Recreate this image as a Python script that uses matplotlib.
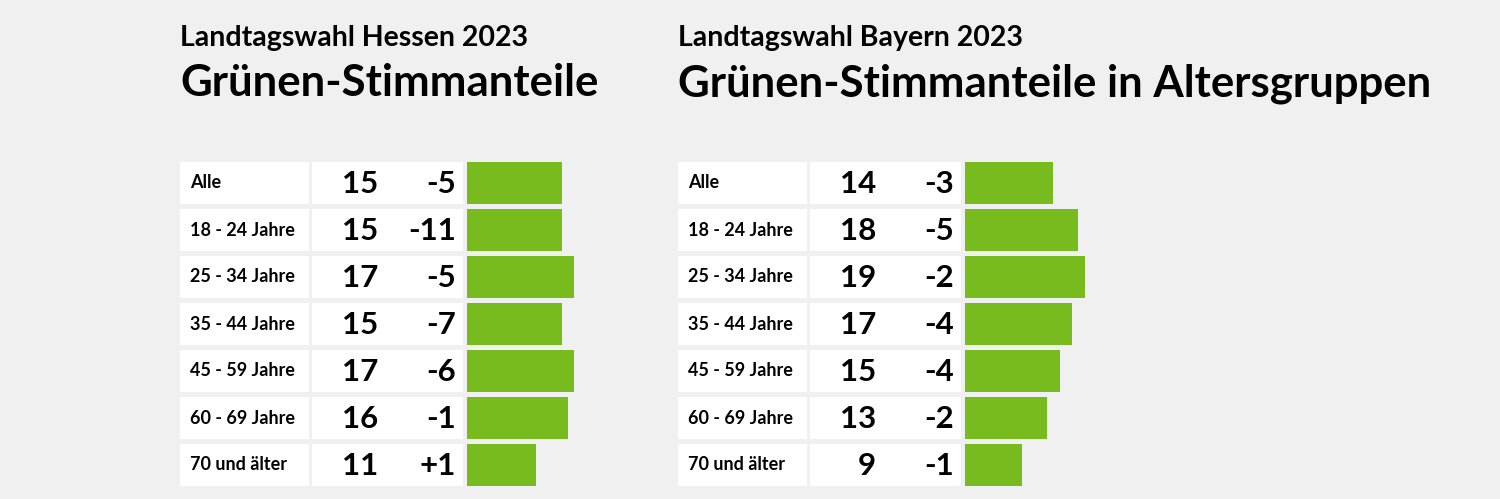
import matplotlib
matplotlib.use('Agg')
import matplotlib.pyplot as plt

# data
groups = ['Alle', '18 - 24 Jahre', '25 - 34 Jahre', '35 - 44 Jahre',
          '45 - 59 Jahre', '60 - 69 Jahre', '70 und älter']
hessen_share = [15, 15, 17, 15, 17, 16, 11]
hessen_change = ['-5', '-11', '-5', '-7', '-6', '-1', '+1']
bayern_share = [14, 18, 19, 17, 15, 13, 9]
bayern_change = ['-3', '-5', '-2', '-4', '-4', '-2', '-1']

panels = [
    ('Landtagswahl Hessen 2023', 'Grünen-Stimmanteile', hessen_share, hessen_change, 180),
    ('Landtagswahl Bayern 2023', 'Grünen-Stimmanteile in Altersgruppen', bayern_share, bayern_change, 678),
]

BG = '#f0f0f0'
GREEN = '#77bb1f'
FONT = 'Lato'
W, H = 1500, 499

fig = plt.figure(figsize=(15, 4.99), dpi=100, facecolor=BG)
bg = fig.add_axes([0, 0, 1, 1])
bg.set_xlim(0, W)
bg.set_ylim(H, 0)
bg.axis('off')

row_top = 162
pitch = 47
row_h = 42
px_per_pt = 6.3

for sup, title, share, change, x0 in panels:
    bg.text(x0, 46, sup, fontsize=20.5, fontweight='bold', family=FONT, va='baseline', ha='left')
    bg.text(x0, 96, title, fontsize=31.5, fontweight='bold', family=FONT, va='baseline', ha='left')
    for i, (g, s, c) in enumerate(zip(groups, share, change)):
        top = row_top + i * pitch
        bg.add_patch(plt.Rectangle((x0, top), 129, row_h, color='white', lw=0))
        bg.add_patch(plt.Rectangle((x0 + 132, top), 151, row_h, color='white', lw=0))
        yc = top + row_h / 2
        bg.text(x0 + 10, yc, g, fontsize=13, fontweight='bold', family=FONT, va='center', ha='left')
        bg.text(x0 + 198, yc + 1, str(s), fontsize=22.5, fontweight='bold', family=FONT, va='center', ha='right')
        bg.text(x0 + 276, yc + 1, c, fontsize=22.5, fontweight='bold', family=FONT, va='center', ha='right')

    # bars in their own axes, value scale in percentage points
    bx = x0 + 287
    ax_w = 20 * px_per_pt
    ax_top = row_top - (pitch - row_h) / 2
    ax_h = 7 * pitch
    ax = fig.add_axes([bx / W, 1 - (ax_top + ax_h) / H, ax_w / W, ax_h / H])
    ax.set_xlim(0, 20)
    ax.set_ylim(6.5, -0.5)
    ax.barh(range(len(share)), share, height=row_h / pitch, color=GREEN, lw=0)
    ax.axis('off')

fig.savefig('out.png', dpi=100, facecolor=BG)
